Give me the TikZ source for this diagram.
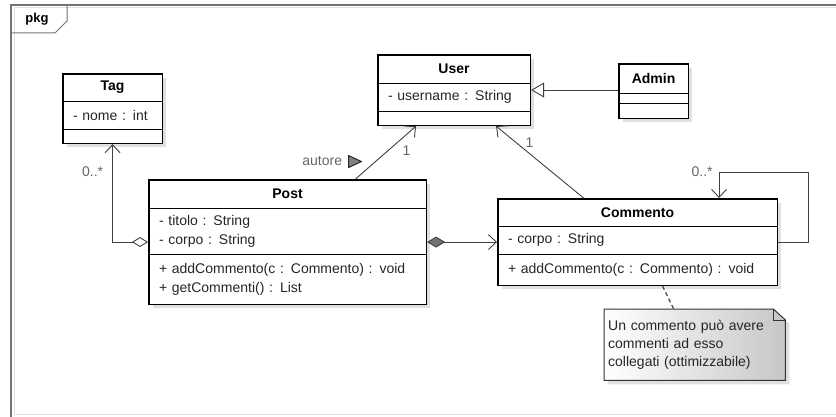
\documentclass[tikz,border=0pt]{standalone}
\usepackage{fontspec}
\setmainfont{Liberation Sans}
\usetikzlibrary{matrix,positioning,shadows,arrows.meta,backgrounds}

\newcommand{\umlfont}{\fontsize{14}{19}\selectfont}
\newcommand{\notefont}{\fontsize{14}{18}\selectfont}

\begin{document}
\begin{tikzpicture}[x=1pt, y=-1pt,
    umlclass/.style={matrix of nodes, draw, line width=1.5pt, fill=white, inner sep=0pt,
      row sep=-0.6pt, drop shadow={shadow xshift=4pt, shadow yshift=-4pt, opacity=0.3, fill=black!40},
      nodes={draw, line width=0.6pt, inner xsep=10pt, inner ysep=0pt, anchor=center,
        text width=#1, align=left, font=\umlfont, text=black!85}},
    clsname/.style={align=center, font=\umlfont\bfseries, text=black},
    lbl/.style={font=\umlfont, text=black!60, inner sep=0pt},
    conn/.style={draw=black!75, line width=0.9pt},
    assoc/.style={conn, -{Straight Barb[length=8pt, width=15pt]}},
    aggr/.style={conn, {Diamond[open, fill=white, length=16pt, width=10pt]}-{Straight Barb[length=8pt, width=15pt]}},
    comp/.style={conn, {Diamond[fill=black!55, length=18pt, width=11pt]}-{Straight Barb[length=8pt, width=15pt]}},
    gener/.style={conn, -{Triangle[open, fill=white, length=13pt, width=15pt]}},
    notelink/.style={draw=black!70, line width=1.3pt, dash pattern=on 4pt off 3pt},
    notebox/.style={minimum width=181pt, minimum height=71pt, text width=173pt, inner xsep=3pt,
      align=left, font=\notefont, text=black!85},
    notebody/.style={draw=black!80, line width=1pt, left color=white, right color=black!22,
      drop shadow={shadow xshift=4pt, shadow yshift=-4pt, opacity=0.3, fill=black!40}},
    frameline/.style={draw=black!55, line width=1.5pt}
  ]
\useasboundingbox (0,0) rectangle (836,417);

% Package frame
\draw[frameline] (11,417) -- (11,5) -- (836,5);
\draw[black!12, line width=1pt] (14,414) -- (14,8) -- (836,8);
\draw[black!12, line width=1pt] (14,414) -- (836,414);
\draw[frameline, line width=1pt] (11,33) -- (55,33) -- (67,21) -- (67,5);
\node[font=\fontsize{13}{15}\selectfont\bfseries] (pkglabel) at (37,19) {pkg};

% Classes
\matrix (tag) [umlclass=79pt, anchor=north west] at (62,73) {
|[clsname, minimum height=27pt]| Tag \\
|[minimum height=28pt]| - nome : int \\
|[minimum height=14pt]| \mbox{} \\
};

\matrix (user) [umlclass=132pt, anchor=north west] at (377,54) {
|[clsname, minimum height=28pt]| User \\
|[minimum height=28pt]| - username : String \\
|[minimum height=14pt]| \mbox{} \\
};

\matrix (admin) [umlclass=49pt, anchor=north west] at (618,63) {
|[clsname, minimum height=29pt]| Admin \\
|[minimum height=10pt]| \mbox{} \\
|[minimum height=15pt]| \mbox{} \\
};

\matrix (post) [umlclass=257pt, anchor=north west] at (148,179) {
|[clsname, minimum height=28pt]| Post \\
|[minimum height=46pt]| {- titolo : String\\- corpo : String} \\
|[minimum height=50pt]| {+ addCommento(c : Commento) : void\\+ getCommenti() : List} \\
};

\matrix (commento) [umlclass=259pt, anchor=north west] at (497,198) {
|[clsname, minimum height=27pt]| Commento \\
|[minimum height=28pt]| - corpo : String \\
|[minimum height=31pt]| + addCommento(c : Commento) : void \\
};

% Note
\node[notebox, anchor=north west] (note) at (604,309)
  {Un commento può avere\\commenti ad esso\\collegati (ottimizzabile)};
\begin{scope}[on background layer]
\path[notebody] (note.north west) -- ([xshift=-12pt]note.north east)
  -- ([yshift=-11pt]note.north east) -- (note.south east) -- (note.south west) -- cycle;
\end{scope}
\draw[black!80, line width=0.8pt] ([xshift=-12pt]note.north east) |- ([yshift=-11pt]note.north east);

% Relations
\draw[aggr] (post.west) -| node[pos=0.86, left=9pt, lbl] {0..*} (tag.south);
\draw[assoc] ([xshift=68pt]post.north) --
  node[pos=0.54, right=14pt, lbl] {1}
  node[pos=0.33, left=33pt, lbl] (autore) {autore}
  ([xshift=-38pt]user.south);
\draw[black!85, fill=black!50, line width=1pt, line join=round]
  ([xshift=6pt, yshift=6pt]autore.east) -- ++(0,12) -- ++(13,-6) -- cycle;
\draw[assoc] ([xshift=-54pt]commento.north) -- node[pos=0.77, right=9pt, lbl] {1} ([xshift=42pt]user.south);
\draw[gener] (user.east -| admin.west) -- (user.east);
\draw[comp] (post.east) -- (commento.west);
\coordinate (loopc) at ([xshift=81.5pt, yshift=26pt]commento.north);
\draw[assoc] (commento.east) -- ++(30,0) |- (loopc)
  -- node[at start, left=6pt, lbl] {0..*} (loopc |- commento.north);
\draw[notelink] ([xshift=25pt]commento.south) -- ([xshift=-21pt]note.north);

\end{tikzpicture}
\end{document}
